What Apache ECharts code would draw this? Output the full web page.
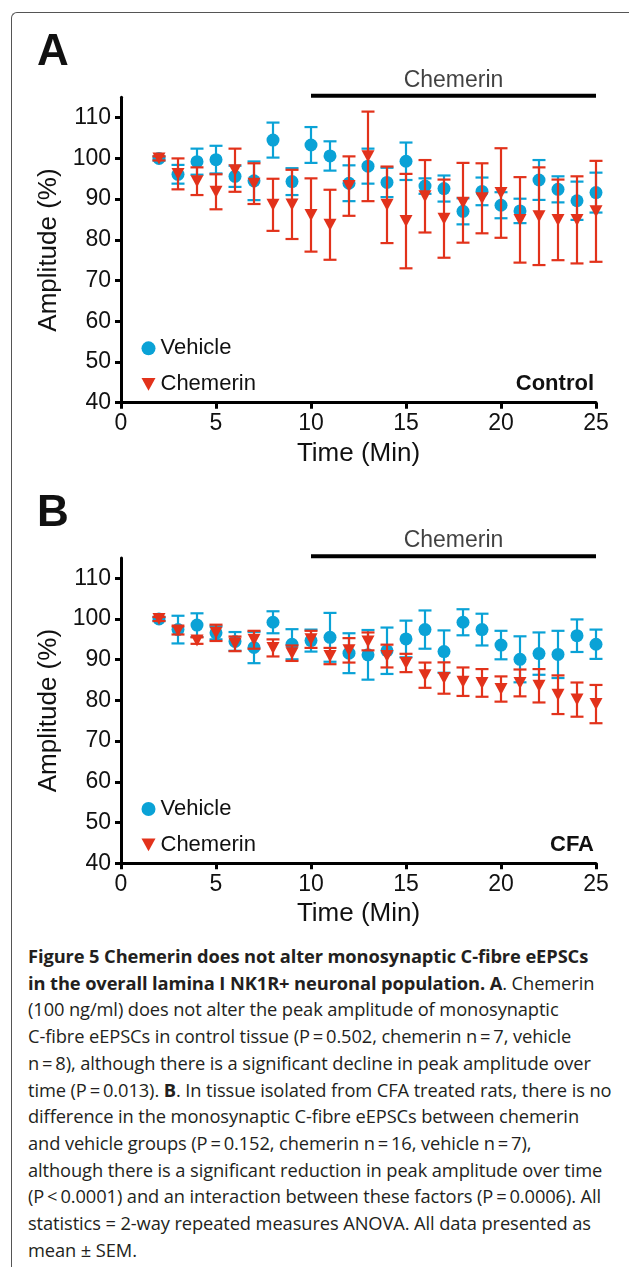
<!DOCTYPE html>
<html>
<head>
<meta charset="utf-8">
<script src="https://cdn.jsdelivr.net/npm/echarts@6/dist/echarts.min.js"></script>
<style>
  html, body { margin: 0; padding: 0; background: #fff; }
  #wrap { position: relative; width: 629px; height: 1267px; overflow: hidden; background: #fff; }
  #frame { position: absolute; left: 11px; top: 12px; width: 800px; height: 1500px;
           border-top: 1.3px solid #555; border-left: 1.3px solid #555; border-top-left-radius: 6px; }
  #chart { position: absolute; left: 0; top: 0; width: 629px; height: 930px; }
  #caption { position: absolute; left: 28px; top: 943px; font-family: "Open Sans", sans-serif;
             font-size: 18.3px; line-height: 26.7px; color: #231f20; white-space: pre; letter-spacing: -0.1px; }
  #caption b { font-weight: 700; }
</style>
</head>
<body>
<div id="wrap">
  <div id="frame"></div>
  <div id="chart"></div>
  <div id="caption"></div>
</div>
<script>
// ---- Data ----
const times = [2,3,4,5,6,7,8,9,10,11,12,13,14,15,16,17,18,19,20,21,22,23,24,25];

// Panel A (Control)
const controlVehicleMean = [100,96.1,99.2,99.7,95.6,94.5,104.5,94.3,103.3,100.6,93.9,98.1,94.1,99.3,93.2,92.6,87.0,91.9,88.5,87.1,94.7,92.4,89.6,91.6];
const controlVehicleSem  = [0.5,2.3,3.2,3.4,2.6,4.75,4.3,3.3,4.4,3.6,4.4,4.3,3.6,4.6,1.9,3.2,3.2,3.4,3.2,3.0,4.9,3.2,4.7,4.9];
const controlChemerinMean = [100,96.2,94.4,91.8,97.1,93.8,88.6,88.7,86.1,83.7,93.2,100.5,88.6,84.6,90.7,85.2,89.1,90.2,91.5,84.9,85.8,84.9,84.9,87.0];
const controlChemerinSem  = [0.5,3.8,3.4,4.3,5.3,5.0,6.4,8.5,9.0,8.6,7.3,11.0,9.4,11.6,8.9,9.6,9.8,8.6,11.0,10.5,12.0,9.9,10.7,12.4];

// Panel B (CFA)
const cfaVehicleMean = [100,97.4,98.5,96.6,94.5,93.0,99.2,93.8,94.7,95.5,91.6,91.2,92.2,95.1,97.4,92.0,99.2,97.4,93.6,90.1,91.5,91.3,95.9,93.8];
const cfaVehicleSem  = [0.5,3.4,2.9,1.6,2.3,3.85,2.7,3.7,2.7,6.0,4.9,6.1,5.7,4.5,4.7,5.2,3.2,3.9,3.5,5.65,5.2,5.8,4.0,3.6];
const cfaChemerinMean = [100,97.2,94.7,96.6,93.9,94.9,92.9,91.6,95.0,90.9,92.3,94.5,90.9,89.2,86.2,85.5,84.6,84.3,82.8,84.3,83.6,81.4,80.2,79.1];
const cfaChemerinSem  = [0.5,1.0,0.8,2.0,1.8,2.2,2.1,1.9,2.1,2.0,3.0,2.2,2.8,2.25,3.1,3.85,3.5,3.4,3.1,3.3,4.1,4.75,4.2,4.7];

const chemerinPeriod = [10, 25];      // application bar (min)
const chemerinBarLevel = 115.4;       // drawn just above axis top
const yTicks = [40,50,60,70,80,90,100,110];
const xTicks = [0,5,10,15,20,25];
const seriesNames = ['Vehicle', 'Chemerin'];
const panelLetters = ['A', 'B'];
const panelConditions = ['Control', 'CFA'];
const barLabel = 'Chemerin';

const captionLines = [
  '<b>Figure 5 Chemerin does not alter monosynaptic C-fibre eEPSCs</b>',
  '<b>in the overall lamina I NK1R+ neuronal population. A</b>. Chemerin',
  '(100 ng/ml) does not alter the peak amplitude of monosynaptic',
  'C-fibre eEPSCs in control tissue (P\u2009=\u20090.502, chemerin n\u2009=\u20097, vehicle',
  'n\u2009=\u20098), although there is a significant decline in peak amplitude over',
  'time (P\u2009=\u20090.013). <b>B</b>. In tissue isolated from CFA treated rats, there is no',
  'difference in the monosynaptic C-fibre eEPSCs between chemerin',
  'and vehicle groups (P\u2009=\u20090.152, chemerin n\u2009=\u200916, vehicle n\u2009=\u20097),',
  'although there is a significant reduction in peak amplitude over time',
  '(P\u2009&lt;\u20090.0001) and an interaction between these factors (P\u2009=\u20090.0006). All',
  'statistics = 2-way repeated measures ANOVA. All data presented as',
  'mean \u00b1 SEM.'
];
document.getElementById('caption').innerHTML = captionLines.join('\n');

// ---- Styling ----
const BLUE = '#0aa2d6';
const RED = '#e2321b';
const FONT = 'Liberation Sans, Arial, Helvetica, sans-serif';
const panels = [
  { top: 97.35, vMean: controlVehicleMean, vSem: controlVehicleSem, cMean: controlChemerinMean, cSem: controlChemerinSem },
  { top: 557.95, vMean: cfaVehicleMean, vSem: cfaVehicleSem, cMean: cfaChemerinMean, cSem: cfaChemerinSem }
];
const GRID_H = 305.3;

function pts(mean, sem) { return times.map((t, i) => [t, mean[i], sem[i]]); }

function errorBar(color) {
  return function (params, api) {
    const x = api.value(0), m = api.value(1), e = api.value(2);
    const a = api.coord([x, m + e]), b = api.coord([x, m - e]);
    const hw = 6.5;
    const st = { stroke: color, lineWidth: 2.2 };
    return { type: 'group', children: [
      { type: 'line', shape: { x1: a[0], y1: a[1], x2: b[0], y2: b[1] }, style: st },
      { type: 'line', shape: { x1: a[0] - hw, y1: a[1], x2: a[0] + hw, y2: a[1] }, style: st },
      { type: 'line', shape: { x1: b[0] - hw, y1: b[1], x2: b[0] + hw, y2: b[1] }, style: st }
    ]};
  };
}

const grid = [], xAxis = [], yAxis = [], series = [], legend = [], graphic = [];
panels.forEach((p, k) => {
  grid.push({ left: 121, top: p.top, width: 475, height: GRID_H });
  xAxis.push({
    gridIndex: k, type: 'value', min: 0, max: 25, interval: 5,
    name: 'Time (Min)', nameLocation: 'middle', nameGap: 38,
    nameTextStyle: { fontFamily: FONT, fontSize: 26, color: '#111' },
    axisLine: { lineStyle: { color: '#000', width: 3 } },
    axisTick: { length: 6, lineStyle: { color: '#000', width: 3 }, customValues: xTicks },
    axisLabel: { fontFamily: FONT, fontSize: 23, color: '#111', margin: 10, customValues: xTicks },
    splitLine: { show: false }
  });
  yAxis.push({
    gridIndex: k, type: 'value', min: 40, max: 115,
    name: 'Amplitude (%)', nameLocation: 'middle', nameGap: 56, nameRotate: 90,
    nameTextStyle: { fontFamily: FONT, fontSize: 26, color: '#111' },
    axisLine: { show: true, lineStyle: { color: '#000', width: 3 } },
    axisTick: { show: true, length: 6, lineStyle: { color: '#000', width: 3 }, customValues: yTicks },
    axisLabel: { fontFamily: FONT, fontSize: 23, color: '#111', margin: 10, customValues: yTicks },
    splitLine: { show: false }
  });
  const ax = { xAxisIndex: k, yAxisIndex: k };
  series.push(
    Object.assign({ type: 'custom', name: seriesNames[0], renderItem: errorBar(BLUE), data: pts(p.vMean, p.vSem),
      encode: { x: 0, y: 1 }, itemStyle: { color: BLUE }, z: 2, silent: true }, ax),
    Object.assign({ type: 'scatter', name: seriesNames[0], data: pts(p.vMean, p.vSem), symbol: 'circle', symbolSize: 13,
      itemStyle: { color: BLUE, opacity: 1 }, z: 3 }, ax),
    Object.assign({ type: 'custom', name: seriesNames[1], renderItem: errorBar(RED), data: pts(p.cMean, p.cSem),
      encode: { x: 0, y: 1 }, itemStyle: { color: RED }, z: 4, silent: true }, ax),
    Object.assign({ type: 'scatter', name: seriesNames[1], data: pts(p.cMean, p.cSem), symbol: 'triangle', symbolRotate: 180,
      symbolSize: [13, 12], itemStyle: { color: RED, opacity: 1 }, z: 5 }, ax),
    Object.assign({ type: 'line', name: 'bar' + k, data: chemerinPeriod.map(t => [t, chemerinBarLevel]), symbol: 'none',
      clip: false, silent: true, lineStyle: { color: '#000', width: 4, cap: 'butt' }, z: 6 }, ax),
    Object.assign({ type: 'scatter', name: 'barlabel' + k,
      data: [[(chemerinPeriod[0] + chemerinPeriod[1]) / 2, chemerinBarLevel]], symbolSize: 0, clip: false, silent: true,
      label: { show: true, position: 'top', distance: 4, formatter: barLabel, fontFamily: FONT, fontSize: 23, color: '#111' }, z: 6 }, ax)
  );
  legend.push({
    orient: 'vertical', left: 141.5, top: p.top + 240, padding: 0, itemGap: 14,
    itemWidth: 14, itemHeight: 14, selectedMode: false,
    textStyle: { fontFamily: FONT, fontSize: 22, color: '#111', lineHeight: 22, padding: [0, 0, 0, 0] },
    data: [
      { name: seriesNames[0], icon: 'circle' },
      { name: seriesNames[1], icon: 'path://M0,0L12,0L6,11Z' }
    ]
  });
  graphic.push(
    { type: 'text', left: 37, top: p.top - 66, style: { text: panelLetters[k], fontFamily: FONT, fontSize: 44, fontWeight: 'bold', fill: '#111' } },
    { type: 'text', right: 35, top: p.top + 276, style: { text: panelConditions[k], fontFamily: FONT, fontSize: 22, fontWeight: 'bold', fill: '#111' } }
  );
});

const chart = echarts.init(document.getElementById('chart'), null, { renderer: 'canvas' });
chart.setOption({ animation: false, backgroundColor: 'transparent', grid, xAxis, yAxis, series, legend, graphic });
</script>
</body>
</html>
